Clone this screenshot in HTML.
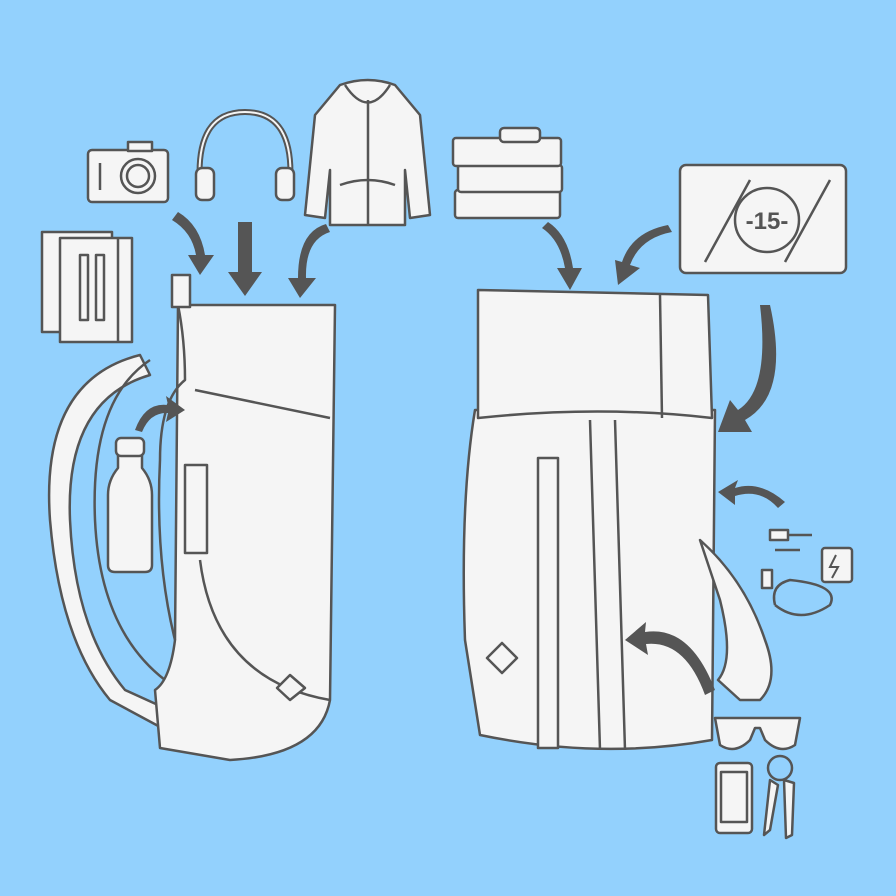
<!DOCTYPE html>
<html><head><style>html,body{margin:0;padding:0;background:#93d1fd}svg{display:block}</style></head>
<body>
<svg width="896" height="896" viewBox="0 0 896 896" xmlns="http://www.w3.org/2000/svg">
<rect width="896" height="896" fill="#93d1fd"/>
<g stroke="#555" stroke-width="2.5" fill="#f5f5f5" stroke-linejoin="round">
<!-- camera -->
<rect x="88" y="150" width="80" height="52" rx="4"/>
<rect x="128" y="142" width="24" height="9"/>
<circle cx="138" cy="176" r="17"/><circle cx="138" cy="176" r="11" fill="none"/>
<line x1="100" y1="163" x2="100" y2="190"/>
<!-- headphones -->
<path d="M200 185 Q195 112 245 112 Q295 112 290 185" fill="none" stroke-width="6"/>
<path d="M200 185 Q195 112 245 112 Q295 112 290 185" fill="none" stroke="#f5f5f5" stroke-width="2"/>
<rect x="196" y="168" width="18" height="32" rx="6"/>
<rect x="276" y="168" width="18" height="32" rx="6"/>
<!-- jacket -->
<path d="M340 85 Q368 75 395 85 L420 115 L430 215 L410 218 L405 170 L405 225 L330 225 L330 170 L325 218 L305 215 L315 115 Z"/>
<path d="M345 85 Q368 120 390 85" fill="none"/>
<line x1="368" y1="100" x2="368" y2="225"/>
<path d="M340 185 Q368 175 395 185" fill="none"/>
<!-- notebooks -->
<rect x="42" y="232" width="70" height="100"/>
<rect x="60" y="238" width="72" height="104"/>
<line x1="118" y1="238" x2="118" y2="342"/>
<rect x="80" y="255" width="8" height="65"/><rect x="96" y="255" width="8" height="65"/>
<!-- books -->
<rect x="455" y="190" width="105" height="28" rx="3"/>
<rect x="458" y="165" width="104" height="27" rx="3"/>
<rect x="453" y="138" width="108" height="28" rx="3"/>
<rect x="500" y="128" width="40" height="14" rx="4"/>
<!-- laptop -->
<rect x="680" y="165" width="166" height="108" rx="6"/>
<line x1="705" y1="262" x2="750" y2="180"/>
<line x1="785" y1="262" x2="830" y2="180"/>
<circle cx="767" cy="220" r="32"/>
<!-- left backpack straps -->
<path d="M140 355 Q40 380 50 520 Q60 640 110 700 L175 735 L180 715 L125 690 Q75 630 70 520 Q65 400 150 375 Z"/>
<path d="M150 360 Q90 400 95 520 Q100 630 165 680" fill="none"/>
<!-- left backpack body -->
<path d="M178 305 L335 305 L330 700 Q320 755 230 760 L160 748 L155 690 Q170 680 175 640 Z"/>
<path d="M178 305 Q185 340 185 380 Q160 400 160 460 Q155 560 175 640" fill="none"/>
<path d="M195 390 L330 418" fill="none"/>
<path d="M200 560 Q215 680 330 700" fill="none"/>
<rect x="185" y="465" width="22" height="88"/>
<rect x="172" y="275" width="18" height="32"/>
<path d="M290 675 L305 688 L290 700 L277 688 Z"/>
<!-- bottle -->
<path d="M118 455 L142 455 L142 468 Q152 480 152 495 L152 565 Q152 572 145 572 L115 572 Q108 572 108 565 L108 495 Q108 480 118 468 Z"/>
<rect x="116" y="438" width="28" height="18" rx="5"/>
<!-- right backpack body -->
<path d="M475 410 L715 410 L712 740 Q600 760 480 735 L465 640 Q460 500 475 410 Z"/>
<path d="M478 290 L708 295 L712 418 Q600 405 478 418 Z"/>
<path d="M660 295 L662 418" fill="none"/>
<rect x="538" y="458" width="20" height="290"/>
<path d="M590 420 L600 750 M615 420 L625 750" fill="none"/>
<path d="M487 658 L502 643 L517 658 L502 673 Z"/>
<path d="M700 540 Q745 580 765 640 Q780 680 760 700 L740 700 L718 680 Q735 660 720 600 Z"/>
<!-- charger -->
<rect x="822" y="548" width="30" height="34" rx="3"/>
<rect x="770" y="530" width="18" height="10"/>
<path d="M788 535 L812 535 M775 550 L800 550 M775 605 Q800 625 830 605 Q840 585 790 580 Q770 585 775 605" fill="none"/>
<rect x="762" y="570" width="10" height="18"/>
<!-- sunglasses -->
<path d="M715 718 L800 718 L795 745 Q780 755 765 740 L760 728 L755 728 L750 740 Q735 755 720 745 Z"/>
<!-- phone -->
<rect x="716" y="763" width="36" height="70" rx="4"/>
<rect x="721" y="772" width="26" height="50" fill="none"/>
<!-- keys -->
<circle cx="780" cy="768" r="12" fill="none"/>
<path d="M770 780 L778 785 L770 830 L764 835 Z"/>
<path d="M784 780 L794 783 L792 835 L786 838 Z"/>
</g>
<text x="767" y="229" font-family="Liberation Sans, sans-serif" font-size="24" font-weight="bold" fill="#555" text-anchor="middle">-15-</text>
<path d="M836 555 L830 567 L838 567 L832 578" stroke="#555" stroke-width="2" fill="none"/>
<!-- arrows -->
<g fill="#555" stroke="none">
<path d="M178 212 Q200 225 205 255 L214 255 L200 275 L188 255 L196 255 Q192 232 172 220 Z"/>
<path d="M238 222 L252 222 L252 272 L262 272 L245 296 L228 272 L238 272 Z"/>
<path d="M330 232 Q305 240 306 278 L316 278 L300 298 L288 278 L298 278 Q298 232 326 224 Z"/>
<path d="M548 222 Q568 235 573 268 L582 268 L570 290 L557 268 L565 268 Q560 240 542 228 Z"/>
<path d="M672 232 Q640 238 630 265 L640 268 L618 285 L615 260 L622 262 Q632 232 668 225 Z"/>
<path d="M770 305 Q790 395 745 420 L752 432 L718 432 L730 400 L738 410 Q770 390 760 305 Z"/>
<path d="M785 502 Q760 480 735 488 L738 480 L718 492 L735 505 L735 496 Q760 488 778 508 Z"/>
<path d="M715 690 Q690 625 645 632 L646 622 L625 640 L648 655 L646 644 Q685 640 705 695 Z"/>
<path d="M135 430 Q145 402 168 405 L166 396 L185 410 L166 422 L168 413 Q150 412 142 432 Z"/>
</g>
</svg>
</body></html>
